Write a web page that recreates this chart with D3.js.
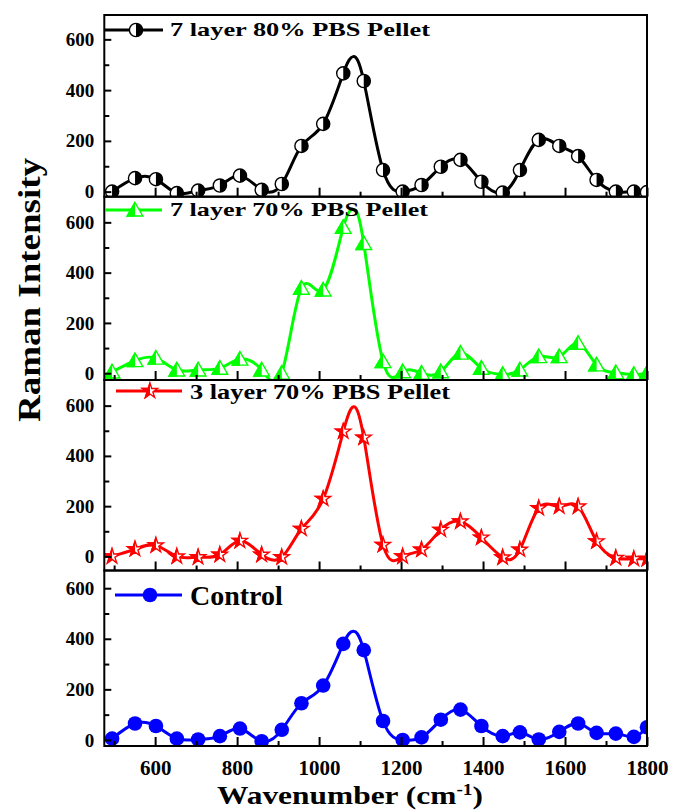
<!DOCTYPE html>
<html>
<head>
<meta charset="utf-8">
<script src="https://cdn.jsdelivr.net/npm/d3@7"></script>
<style>
  body { margin: 0; background: #fff; }
  text { font-family: "Liberation Serif", "Times New Roman", serif; font-weight: bold; }
</style>
</head>
<body>
<svg id="chart" width="675" height="812"></svg>
<script>
// marker positions (cm-1), shared by all four spectra
const wavenumber = [495, 551, 602, 653, 705, 758, 807, 860, 909, 957, 1010, 1059, 1109, 1156,
  1204, 1250, 1297, 1345, 1396, 1448, 1490, 1536, 1586, 1632, 1677, 1724, 1768, 1800];

const layer7pbs80 = [0, 53, 49, -6, 4, 24, 63, 7, 30, 180, 267, 466, 436, 85,
  0, 26, 98, 125, 39, -4, 85, 204, 180, 140, 46, 0, 0, -2];
const layer7pbs70 = [5, 50, 60, 13, 13, 20, 56, 13, 0, 338, 331, 580, 516, 46,
  6, 0, 6, 80, 20, -5, 13, 66, 66, 119, 33, 2, -5, 0];
const layer3pbs70 = [0, 29, 44, 0, -3, 7, 62, 7, -3, 110, 229, 497, 473, 46,
  0, 27, 106, 139, 75, -4, 27, 192, 199, 199, 60, -6, -10, -10];
const control = [5, 65, 55, 5, 2, 15, 45, -5, 40, 145, 215, 380, 355, 75,
  0, 10, 80, 120, 55, 15, 30, 2, 32, 65, 28, 25, 12, 50];

// main band maximum between markers (line only, no marker)
const peakX = [1083, 1085, 1083, 1083];
const peakY = [532, 650, 595, 430];

const names = ["7 layer 80% PBS Pellet", "7 layer 70% PBS Pellet", "3 layer 70% PBS Pellet", "Control"];
const yTicks = [0, 200, 400, 600];
const yMinor = [100, 300, 500];
const xTicks = [600, 800, 1000, 1200, 1400, 1600, 1800];
const xMinor = [500, 700, 900, 1100, 1300, 1500, 1700];

const serif = '"Liberation Serif", "Times New Roman", serif';
const svg = d3.select("#chart");
const left = 104.3, right = 647;
const x = d3.scaleLinear().domain([476, 1800]).range([left, right]);

const panels = [
  { values: layer7pbs80, color: "#000", marker: "circleHalf", top: 15, bottom: 196.7, lo: -20, hi: 696,
    leg: { x0: left, x1: 163, xm: 136, y: 30, tx: 170, ty: 36, size: 19, len: 260 } },
  { values: layer7pbs70, color: "#00ff00", marker: "triangleHalf", top: 196.7, bottom: 380, lo: -27, hi: 702,
    leg: { x0: 105, x1: 162, xm: 135, y: 210, tx: 170, ty: 216, size: 19, len: 258 } },
  { values: layer3pbs70, color: "#ff0000", marker: "starHalf", top: 380, bottom: 570.5, lo: -56, hi: 702,
    leg: { x0: 116, x1: 182, xm: 150, y: 391, tx: 190, ty: 399, size: 20, len: 260 } },
  { values: control, color: "#0000ff", marker: "circle", top: 570.5, bottom: 746, lo: -24, hi: 670,
    leg: { x0: 115, x1: 182, xm: 150, y: 595, tx: 190, ty: 605, size: 28, len: null } }
];

const defs = svg.append("defs");
defs.append("clipPath").attr("id", "leftHalf")
  .append("rect").attr("x", -12).attr("y", -12).attr("width", 12).attr("height", 24);

const triPath = "M0,-7.5L7.8,6L-7.8,6Z";
const starPath = d3.symbol(d3.symbolStar, 70)();

function drawMarker(g, type, color, cx, cy) {
  const t = `translate(${cx},${cy})`;
  if (type === "circle") {
    g.append("circle").attr("cx", cx).attr("cy", cy).attr("r", 7.3).attr("fill", color);
  } else if (type === "circleHalf") {
    g.append("circle").attr("cx", cx).attr("cy", cy).attr("r", 6.6)
      .attr("fill", "#fff").attr("stroke", color).attr("stroke-width", 1.4);
    g.append("path").attr("transform", t).attr("d", "M0,-6.6A6.6,6.6 0 0 1 0,6.6Z").attr("fill", color);
  } else {
    const d = type === "triangleHalf" ? triPath : starPath;
    g.append("path").attr("transform", t).attr("d", d)
      .attr("fill", "#fff").attr("stroke", color).attr("stroke-width", 1.4);
    g.append("path").attr("transform", t).attr("d", d).attr("fill", color)
      .attr("stroke", color).attr("stroke-width", 1.4).attr("clip-path", "url(#leftHalf)");
  }
}

panels.forEach((p, i) => {
  const y = d3.scaleLinear().domain([p.lo, p.hi]).range([p.bottom, p.top]);

  defs.append("clipPath").attr("id", "panel" + i)
    .append("rect").attr("x", left).attr("y", p.top).attr("width", right - left).attr("height", p.bottom - p.top);

  const pts = wavenumber.map((w, k) => [w, p.values[k]]);
  const linePts = pts.concat([[peakX[i], peakY[i]]]).sort((a, b) => a[0] - b[0]);

  const g = svg.append("g").attr("clip-path", `url(#panel${i})`);
  const line = d3.line().x(d => x(d[0])).y(d => y(d[1])).curve(d3.curveNatural);
  g.append("path").datum(linePts).attr("d", line)
    .attr("fill", "none").attr("stroke", p.color).attr("stroke-width", 3);
  pts.forEach(d => drawMarker(g, p.marker, p.color, x(d[0]), y(d[1])));

  // axes (ticks inward)
  const ya = svg.append("g").attr("transform", `translate(${left},0)`)
    .call(d3.axisLeft(y).tickValues(yTicks).tickSize(-7).tickPadding(10));
  svg.append("g").attr("transform", `translate(${left},0)`)
    .call(d3.axisLeft(y).tickValues(yMinor).tickSize(-5).tickFormat(""));
  ya.selectAll("text").style("font-family", serif).style("font-weight", "bold")
    .style("font-size", "19px").attr("fill", "#000");

  const xa = svg.append("g").attr("transform", `translate(0,${p.bottom})`)
    .call(d3.axisBottom(x).tickValues(xTicks).tickFormat(d3.format("d")).tickSize(-9).tickPadding(14));
  svg.append("g").attr("transform", `translate(0,${p.bottom})`)
    .call(d3.axisBottom(x).tickValues(xMinor).tickSize(-5).tickFormat(""));
  if (i < 3) xa.selectAll("text").remove();
  else xa.selectAll("text").style("font-family", serif).style("font-weight", "bold")
    .style("font-size", "21px").attr("fill", "#000");

  svg.selectAll(".domain").remove();
  svg.selectAll(".tick line").attr("stroke", "#000").attr("stroke-width", 2);

  svg.append("rect").attr("x", left).attr("y", p.top).attr("width", right - left)
    .attr("height", p.bottom - p.top).attr("fill", "none").attr("stroke", "#000").attr("stroke-width", 2);

  // legend
  const L = p.leg;
  svg.append("line").attr("x1", L.x0).attr("x2", L.x1).attr("y1", L.y).attr("y2", L.y)
    .attr("stroke", p.color).attr("stroke-width", 3);
  drawMarker(svg, p.marker, p.color, L.xm, L.y);
  const lt = svg.append("text").attr("x", L.tx).attr("y", L.ty)
    .style("font-size", L.size + "px").attr("fill", "#000").text(names[i]);
  if (L.len) lt.attr("textLength", L.len).attr("lengthAdjust", "spacingAndGlyphs");
});

// axis titles
const xt = svg.append("text").attr("x", 350).attr("y", 804).attr("text-anchor", "middle")
  .style("font-size", "26px").attr("fill", "#000")
  .attr("textLength", 266).attr("lengthAdjust", "spacingAndGlyphs");
xt.append("tspan").text("Wavenumber (cm");
xt.append("tspan").attr("dy", -9).style("font-size", "16px").text("-1");
xt.append("tspan").attr("dy", 9).text(")");

svg.append("text").attr("transform", "translate(40,290) rotate(-90)").attr("text-anchor", "middle")
  .style("font-size", "31px").attr("fill", "#000")
  .attr("textLength", 264).attr("lengthAdjust", "spacingAndGlyphs").text("Raman Intensity");
</script>
</body>
</html>
